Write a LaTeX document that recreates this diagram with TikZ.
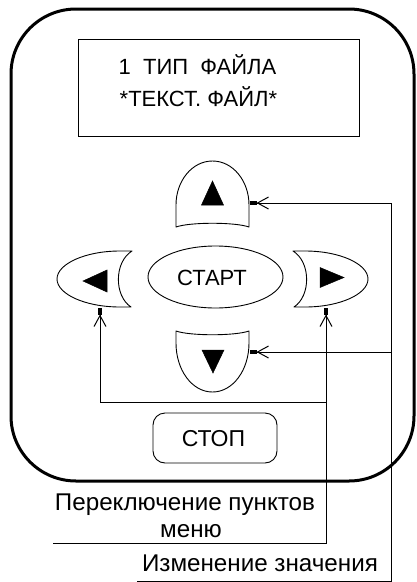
\documentclass[tikz,border=0pt]{standalone}
\usepackage{fontspec}
\setmainfont{Liberation Sans}
\usetikzlibrary{arrows.meta,shapes.geometric}
\tikzset{
  btn/.style={line width=0.9pt, line join=round},
  wire/.style={line width=1pt},
  fork/.style={-{Straight Barb[length=11pt,width=12pt,line width=1pt,sep=0pt]Square[length=7pt,width=4.5pt,sep=0pt]}},
  txt/.style={inner sep=0pt, font=\fontsize{22}{26}\selectfont},
  big/.style={inner sep=0pt, font=\fontsize{24.2}{27}\selectfont},
  tri/.style={fill=black, draw=black, line width=0.5pt},
}
\begin{document}
\begin{tikzpicture}[x=1pt,y=-1pt]
\useasboundingbox (0,0) rectangle (417,582);
% outer body
\draw[line width=3pt, rounded corners=65pt] (11,9) rectangle (414,481);
% display
\node[draw, line width=1pt, minimum width=281pt, minimum height=97pt, inner sep=0pt] (disp) at (218.5,87.5) {};
\node[txt, anchor=base west] (line1) at (118.5,74) {1\ \ ТИП\ \ ФАЙЛА};
\node[txt, anchor=base west] (line2) at (119.5,106) {*ТЕКСТ. ФАЙЛ*};
% up button
\draw[btn] (176,227) -- (176,205) .. controls (176,181) and (192,161) .. (212.5,161)
  .. controls (233,161) and (249,181) .. (249,205) -- (249,227)
  .. controls (235,222) and (190,222) .. (176,227) -- cycle;
\draw[tri] (212.5,181) -- (223.5,205) -- (201.5,205) -- cycle;
% down button
\draw[btn] (176,331) -- (176,343) .. controls (176,370) and (192,392) .. (212.5,392)
  .. controls (233,392) and (249,370) .. (249,343) -- (249,331)
  .. controls (235,336) and (190,336) .. (176,331) -- cycle;
\draw[tri] (202,350) -- (224,350) -- (213,373) -- cycle;
% left button
\draw[btn] (132,251) -- (120,251) .. controls (85,251) and (57,264) .. (57,279)
  .. controls (57,294) and (85,307) .. (120,307) -- (131,307)
  .. controls (114,296) and (114,262) .. (132,251) -- cycle;
\draw[tri] (83,281) -- (107,270) -- (107,292) -- cycle;
% right button
\draw[btn] (293,251) -- (305,251) .. controls (340,251) and (368,264) .. (368,279)
  .. controls (368,294) and (340,307) .. (305,307) -- (294,307)
  .. controls (311,296) and (311,262) .. (293,251) -- cycle;
\draw[tri] (344,277.5) -- (320,267.5) -- (320,287.5) -- cycle;
% start
\node[draw, ellipse, btn, minimum width=135pt, minimum height=62pt, inner sep=0pt] (start) at (215.5,277) {};
\node[txt] (starttxt) at (212,278.3) {СТАРТ};
% stop
\node[draw, btn, rounded corners=12pt, minimum width=124pt, minimum height=50pt, inner sep=0pt] (stop) at (215,438) {};
\node[txt, font=\fontsize{23}{26}\selectfont] (stoptxt) at (213.5,438.3) {СТОП};
% attach points
\coordinate (upE) at (249.5,203);
\coordinate (dnE) at (249.5,352);
\coordinate (lfS) at (100,307.5);
\coordinate (rtS) at (326,307.5);
\coordinate (c1) at (391,203);
\coordinate (c2) at (391,352);
\coordinate (c3) at (326,402);
\coordinate (e1) at (53,543);
\coordinate (e2) at (137,581);
% wires
\draw[wire] (e2) -| (c1);
\draw[wire,fork] (c1) -- (upE);
\draw[wire,fork] (c2) -- (dnE);
\draw[wire,fork] (e1) -| (rtS);
\draw[wire,fork] (c3) -| (lfS);
% labels
\node[big, anchor=base] (lab1) at (185,510.5) {Переключение пунктов};
\node[big, anchor=base] (lab2) at (191,537.5) {меню};
\node[big, anchor=base] (lab3) at (260,571.5) {Изменение значения};
\end{tikzpicture}
\end{document}
